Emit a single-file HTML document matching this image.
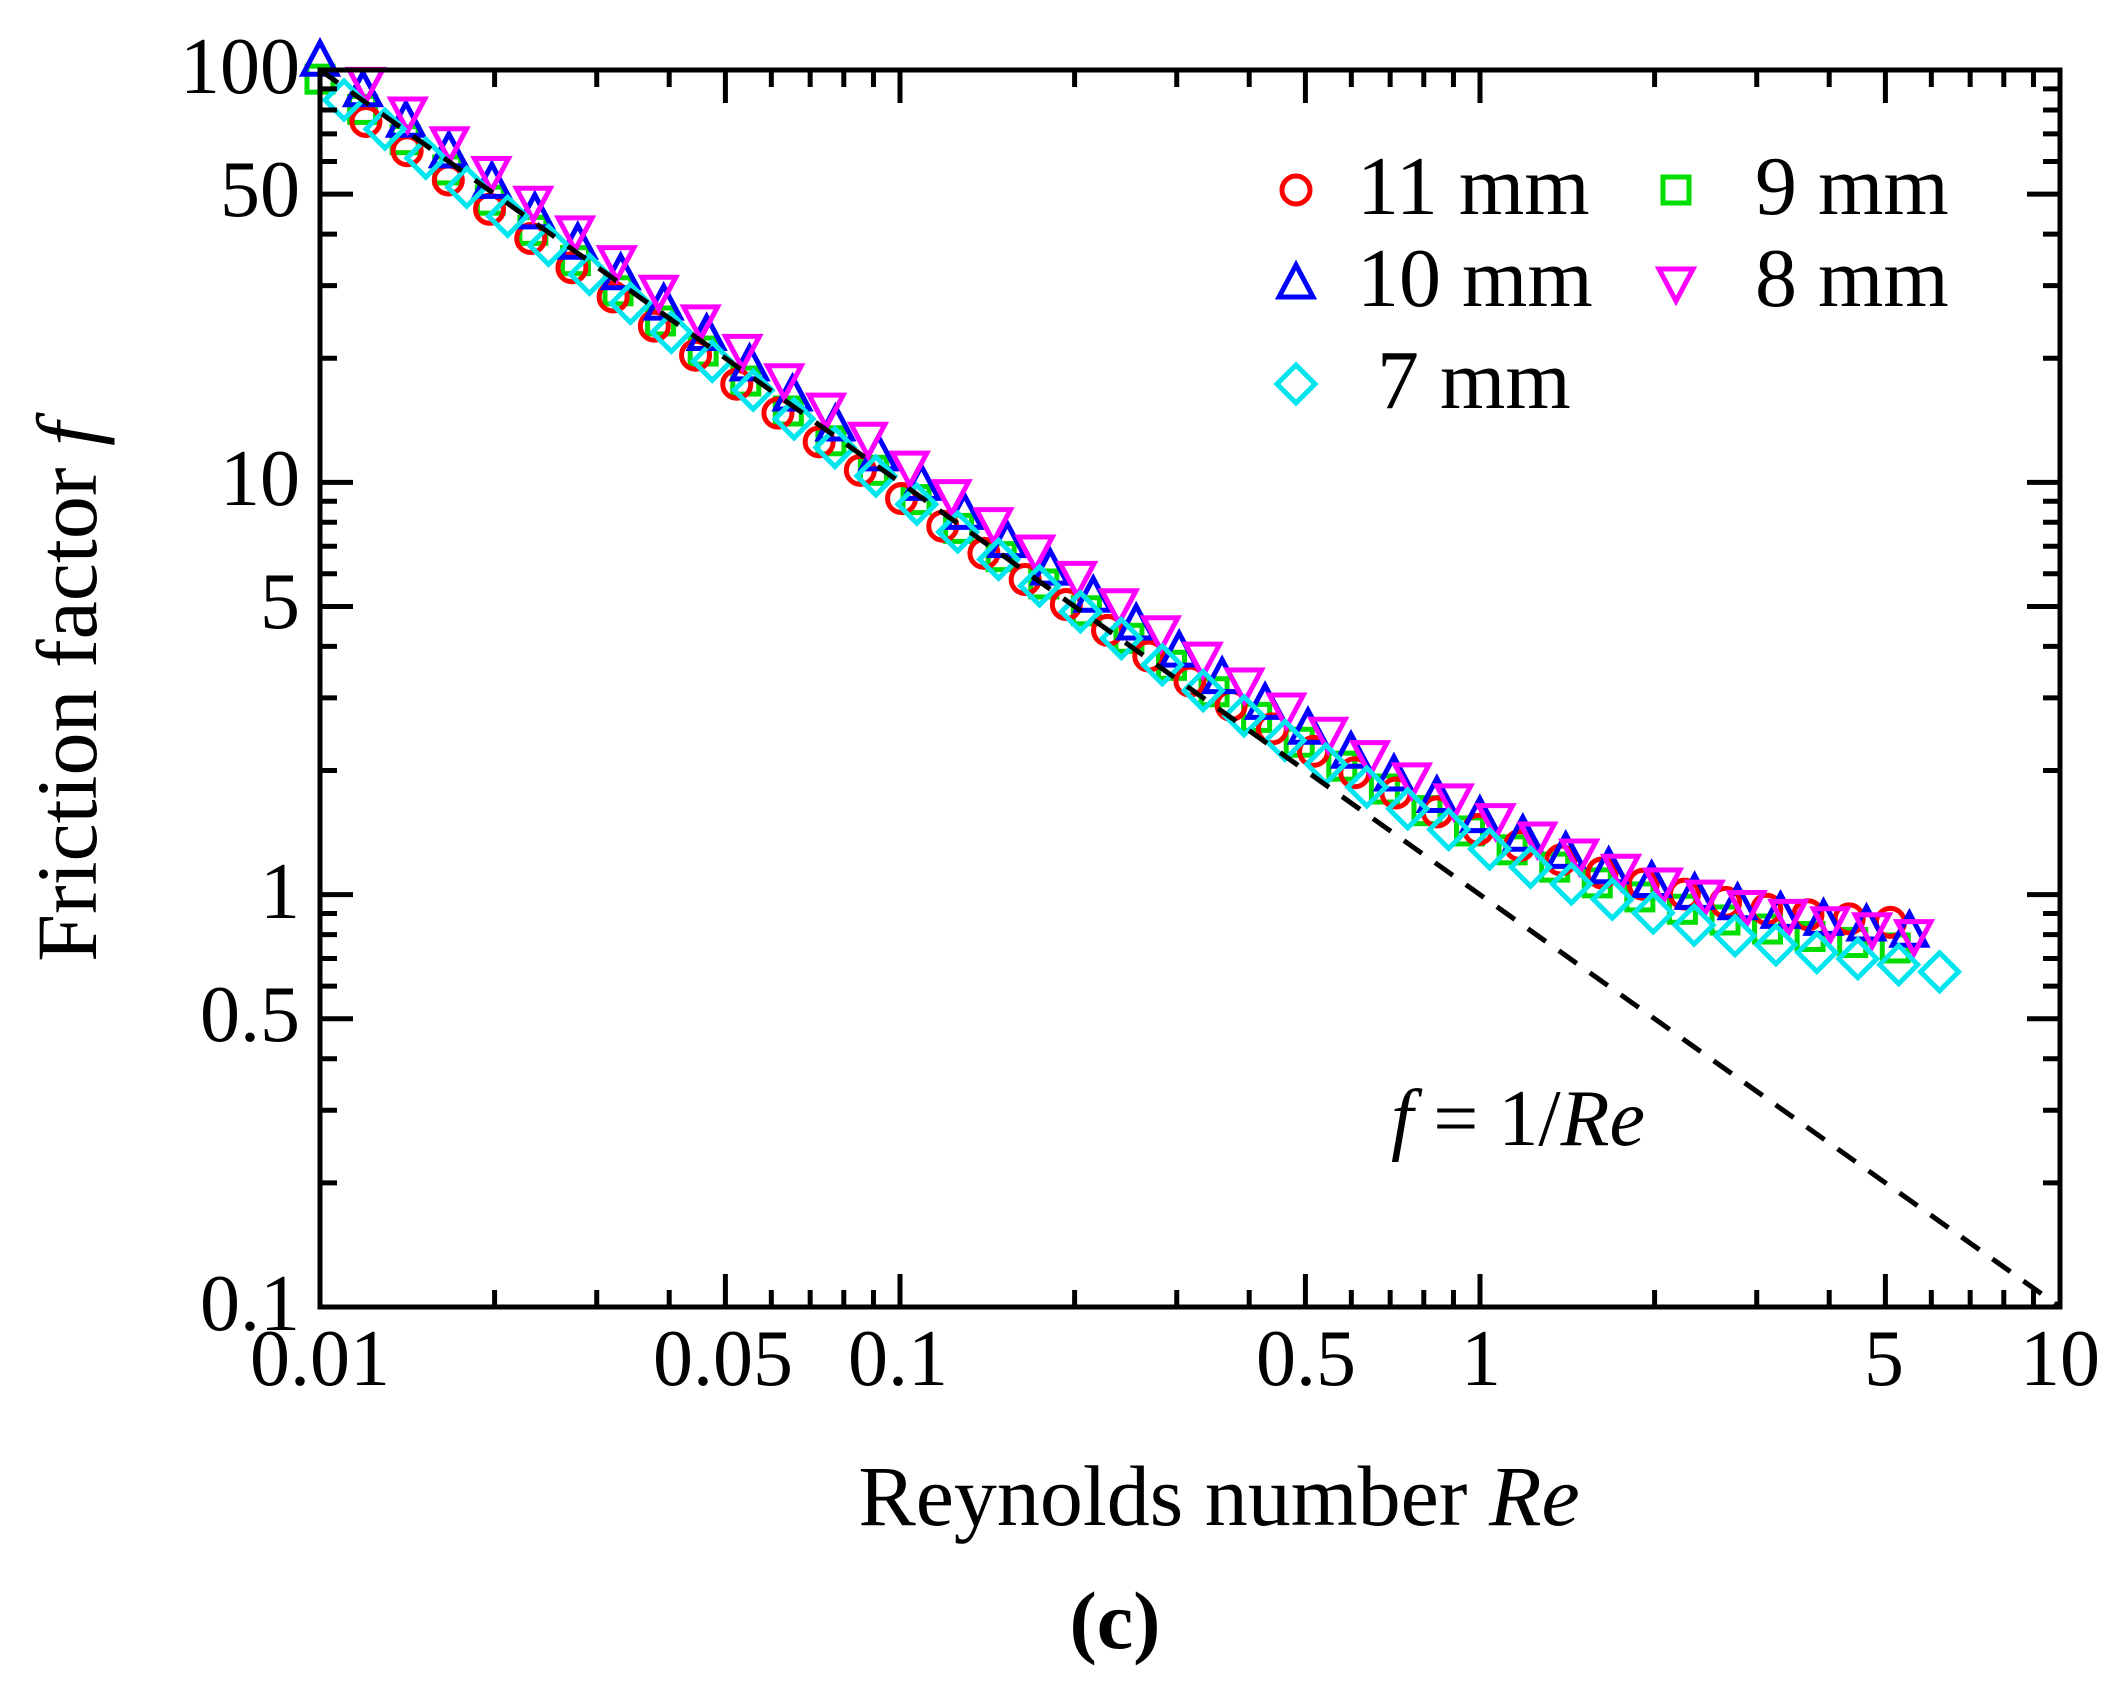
<!DOCTYPE html>
<html><head><meta charset="utf-8"><style>
html,body{margin:0;padding:0;background:#fff;}
svg text{font-family:"Liberation Serif",serif;fill:#000;}
</style></head><body>
<svg id="s" width="2128" height="1691" viewBox="0 0 2128 1691" xmlns="http://www.w3.org/2000/svg">
<g id="data"></g>
<g id="axes" stroke="#000" stroke-width="5" fill="none"></g>
<g font-size="80" text-anchor="end">
<text x="300" y="93">100</text><text x="300" y="216">50</text><text x="300" y="505">10</text>
<text x="300" y="628">5</text><text x="300" y="918">1</text><text x="300" y="1041">0.5</text>
<text x="300" y="1330">0.1</text>
</g>
<g font-size="80" text-anchor="middle">
<text x="320" y="1385">0.01</text><text x="723" y="1385">0.05</text><text x="898" y="1385">0.1</text>
<text x="1306" y="1385">0.5</text><text x="1481" y="1385">1</text><text x="1884" y="1385">5</text>
<text x="2060" y="1385">10</text>
</g>
<text x="1219" y="1525" font-size="86" text-anchor="middle">Reynolds number <tspan font-style="italic">Re</tspan></text>
<text x="1115" y="1648" font-size="82" text-anchor="middle" font-weight="bold">(c)</text>
<text transform="translate(96,692) rotate(-90)" font-size="86" text-anchor="middle">Friction factor <tspan font-style="italic">f</tspan></text>
<text x="1391" y="1145" font-size="80"><tspan font-style="italic">f</tspan> = 1/<tspan font-style="italic">Re</tspan></text>
<g font-size="84">
<text x="1357" y="214">11 mm</text><text x="1357" y="306">10 mm</text><text x="1377" y="408">7 mm</text>
<text x="1755" y="214">9 mm</text><text x="1755" y="306">8 mm</text>
</g>
<g id="leg" fill="none" stroke-width="4"></g>
</svg>
<script>
var L=320,R=2060,T=70,B=1307;
function X(re){return L+(Math.log10(re)+2)*(R-L)/3;}
function Y(f){return T+(2-Math.log10(f))*(B-T)/3;}
var NS="http://www.w3.org/2000/svg";
function el(p,tag,a){var e=document.createElementNS(NS,tag);for(var k in a)e.setAttribute(k,a[k]);p.appendChild(e);return e;}
var ax=document.getElementById('axes');
el(ax,'rect',{x:L,y:T,width:R-L,height:B-T});
for(var d=-2;d<1;d++){for(var m=1;m<10;m++){var v=m*Math.pow(10,d);var x=X(v);var len=(m==1||m==5)?33:17;
 if(m==1&&d==-2)continue;
 el(ax,'line',{x1:x,y1:B,x2:x,y2:B-len});el(ax,'line',{x1:x,y1:T,x2:x,y2:T+len});}}
for(var d=-1;d<2;d++){for(var m=1;m<10;m++){var v=m*Math.pow(10,d);var y=Y(v);var len=(m==1||m==5)?33:17;
 if(m==1&&d==-1)continue;
 el(ax,'line',{x1:L,y1:y,x2:L+len,y2:y});el(ax,'line',{x1:R,y1:y,x2:R-len,y2:y});}}
var dg=document.getElementById('data');
function mk(g,type,x,y,c){
 var w=5;
 if(type=='o')el(g,'circle',{cx:x,cy:y,r:14,stroke:c,fill:'none','stroke-width':w});
 else if(type=='s')el(g,'rect',{x:x-13,y:y-13,width:26,height:26,stroke:c,fill:'none','stroke-width':w});
 else if(type=='^')el(g,'polygon',{points:(x)+','+(y-19)+' '+(x-17)+','+(y+13)+' '+(x+17)+','+(y+13),stroke:c,fill:'none','stroke-width':w});
 else if(type=='v')el(g,'polygon',{points:(x)+','+(y+19)+' '+(x-17)+','+(y-13)+' '+(x+17)+','+(y-13),stroke:c,fill:'none','stroke-width':w});
 else if(type=='d')el(g,'polygon',{points:(x)+','+(y-19)+' '+(x+19)+','+(y)+' '+(x)+','+(y+19)+' '+(x-19)+','+(y),stroke:c,fill:'none','stroke-width':w});}
var ser=[
 ['s','#00dd00',0.01,5.2,0.56,0.95,38],
 ['o','#ff0000',0.012,5.1,0.68,0.9,38],
 ['^','#0000ff',0.01,5.5,0.62,1.05,38],
 ['v','#ff00ff',0.012,5.6,0.6,1.12,38],
 ['d','#00e5ee',0.011,6.2,0.5,0.93,40]];
ser.forEach(function(s){for(var i=0;i<s[6];i++){var re=s[2]*Math.pow(s[3]/s[2],i/(s[6]-1));
 var f=s[5]/re+s[4]*Math.pow(Math.min(re,5)/5,0.15)*(re>0.2?1:re/0.2);
 mk(dg,s[0],X(re),Y(f),s[1]);}});
el(dg,'line',{x1:X(0.01),y1:Y(100),x2:X(10),y2:Y(0.1),stroke:'#000','stroke-width':5,'stroke-dasharray':'22,16'});
var lg=document.getElementById('leg');
mk(lg,'o',1296,190,'#ff0000');mk(lg,'^',1296,284,'#0000ff');mk(lg,'d',1296,384,'#00e5ee');
mk(lg,'s',1676,190,'#00dd00');mk(lg,'v',1676,282,'#ff00ff');
</script>
</body></html>
